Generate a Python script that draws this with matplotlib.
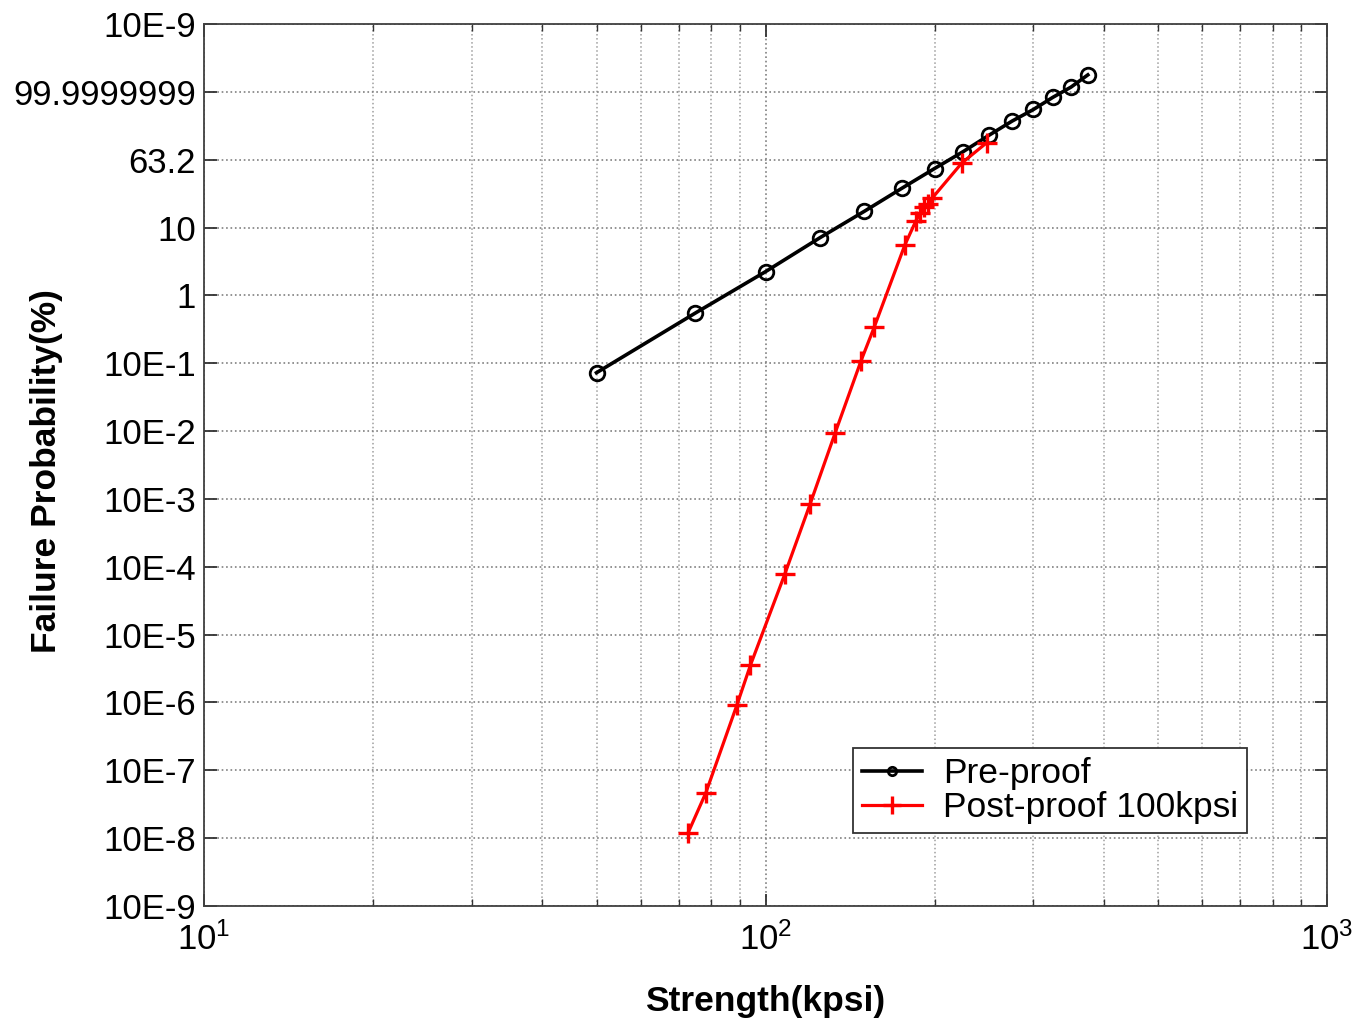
import matplotlib
matplotlib.use("Agg")
import matplotlib.pyplot as plt
from matplotlib.ticker import NullFormatter, LogLocator

plt.rcParams['font.family'] = ['Liberation Sans', 'DejaVu Sans']

# Weibull-paper y axis: data kept as position on the probability scale
# (0 = 10E-9 ... 13 = top of the paper), labels are the printed ones
y_tick_labels = ['10E-9', '10E-8', '10E-7', '10E-6', '10E-5', '10E-4', '10E-3',
                 '10E-2', '10E-1', '1', '10', '63.2', '99.9999999', '10E-9']

# Pre-proof strength distribution
strength_pre = [50, 75, 100, 125, 150, 175, 200, 225, 250, 275, 300, 325, 350, 375]
prob_pre = [7.86, 8.74, 9.35, 9.85, 10.24, 10.58, 10.87, 11.12, 11.36, 11.57,
            11.74, 11.92, 12.07, 12.25]

# Post-proof (100 kpsi) strength distribution
strength_post = [72.8, 78.3, 88.9, 94.0, 108.2, 120.0, 133.0, 148.0, 156.3, 177.0,
                 185.3, 188.5, 191.6, 194.7, 197.9, 223.6, 247.7]
prob_post = [1.08, 1.67, 2.96, 3.55, 4.89, 5.92, 6.97, 8.04, 8.54, 9.74,
             10.10, 10.21, 10.30, 10.34, 10.43, 10.95, 11.25]

fig = plt.figure(figsize=(13.53, 10.21), dpi=100)
ax = fig.add_axes([0.1508, 0.1126, 0.83, 0.8639])

ax.plot(strength_pre, prob_pre, color='black', lw=2.6, marker='o', ms=10.5,
        mfc='none', mew=2.0, label='Pre-proof')
ax.plot(strength_post, prob_post, color='red', lw=2.3, marker='+', ms=15,
        mew=2.4, label='Post-proof 100kpsi')

ax.set_xscale('log')
ax.set_xlim(10, 1000)
ax.set_ylim(0, 13)
ax.set_yticks(range(len(y_tick_labels)))
ax.set_yticklabels(y_tick_labels)
ax.xaxis.set_minor_locator(LogLocator(base=10, subs=range(2, 10)))
ax.xaxis.set_minor_formatter(NullFormatter())

ax.tick_params(which='both', direction='in', top=True, right=True, labelsize=25,
               color='0.2')
ax.tick_params(which='major', length=9, width=1.3)
ax.tick_params(which='minor', length=5, width=1)
ax.tick_params(axis='x', which='major', pad=12)
ax.tick_params(axis='y', which='major', pad=6)

ax.grid(True, which='major', linestyle=':', color='0.5', lw=1.2)
ax.grid(True, which='minor', axis='x', linestyle=':', color='0.62', lw=1.1)
for s in ax.spines.values():
    s.set_color('0.25')
    s.set_linewidth(1.3)

ax.set_xlabel('Strength(kpsi)', fontsize=25.5, fontweight='bold', labelpad=20)
ax.set_ylabel('Failure Probability(%)', fontsize=25.5, fontweight='bold')
# label sits beside the short tick labels, as on the original paper
ax.yaxis.set_label_coords(-0.126, 0.493)

leg = ax.legend(loc='lower right', bbox_to_anchor=(0.929, 0.083), fontsize=25.5,
                fancybox=False, framealpha=1, edgecolor='0.2', numpoints=1,
                handlelength=1.7, handletextpad=0.6, labelspacing=0.03,
                borderpad=0.25, borderaxespad=0)
leg.get_frame().set_linewidth(1.3)
leg.legend_handles[0].set_markersize(6)
leg.legend_handles[1].set_markersize(13)

fig.savefig('out.png', dpi=100)
